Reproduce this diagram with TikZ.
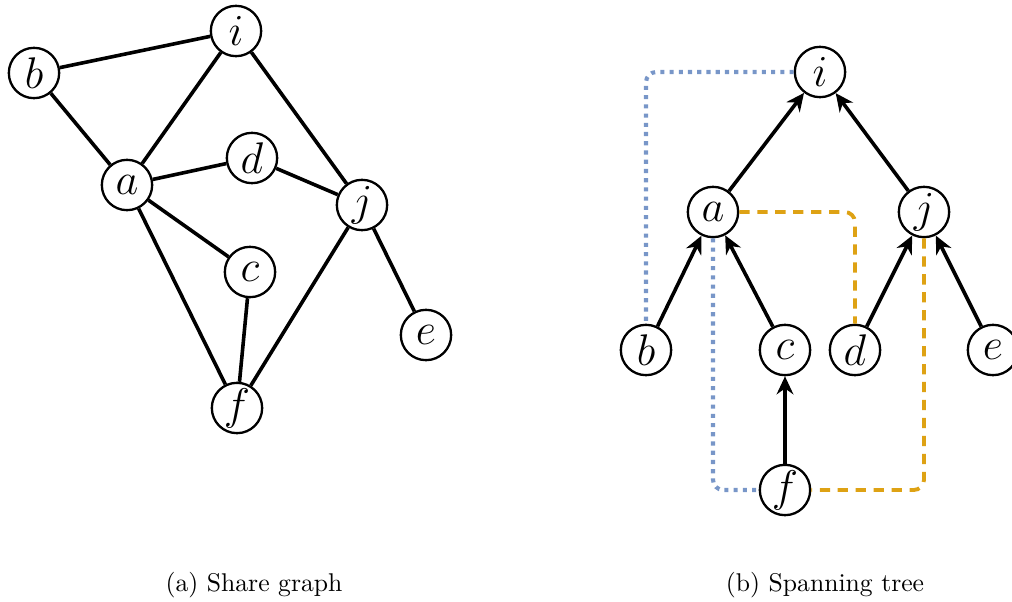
\documentclass[tikz,border=0pt]{standalone}
\usetikzlibrary{arrows.meta}
\definecolor{dotblue}{RGB}{120,150,200}
\definecolor{dashorange}{RGB}{222,162,20}
\tikzset{
  vtx/.style={circle,draw,line width=0.9pt,minimum size=0.69cm,inner sep=0pt,font=\LARGE},
  edge/.style={line width=1.4pt},
  treeedge/.style={line width=1.4pt,-{Stealth[length=7pt,width=6.5pt]}},
  bluepath/.style={dotblue,line width=1.6pt,dotted,rounded corners=4pt},
  orangepath/.style={dashorange,line width=1.5pt,dash pattern=on 4pt off 3pt,rounded corners=4pt}
}
\begin{document}
\begin{tikzpicture}[x=0.0137cm,y=-0.0137cm]
\useasboundingbox (0,0) rectangle (1012,602);
\node[vtx] (i) at (236,31) {$i$};
\node[vtx] (b) at (34,73) {$b$};
\node[vtx] (a) at (127,185) {$a$};
\node[vtx] (d) at (252,158) {$d$};
\node[vtx] (j) at (362,205) {$j$};
\node[vtx] (c) at (250,272) {$c$};
\node[vtx] (e) at (426,335) {$e$};
\node[vtx] (f) at (237,408) {$f$};
\draw[edge] (b) -- (i);
\draw[edge] (b) -- (a);
\draw[edge] (a) -- (i);
\draw[edge] (i) -- (j);
\draw[edge] (a) -- (d);
\draw[edge] (d) -- (j);
\draw[edge] (a) -- (c);
\draw[edge] (a) -- (f);
\draw[edge] (c) -- (f);
\draw[edge] (j) -- (f);
\draw[edge] (j) -- (e);
\node[vtx] (ri) at (820,72) {$i$};
\node[vtx] (ra) at (713,212) {$a$};
\node[vtx] (rj) at (924,212) {$j$};
\node[vtx] (rb) at (646,350) {$b$};
\node[vtx] (rc) at (785,350) {$c$};
\node[vtx] (rd) at (855,350) {$d$};
\node[vtx] (re) at (993,350) {$e$};
\node[vtx] (rf) at (785,490) {$f$};
\draw[treeedge] (ra) -- (ri);
\draw[treeedge] (rj) -- (ri);
\draw[treeedge] (rb) -- (ra);
\draw[treeedge] (rc) -- (ra);
\draw[treeedge] (rd) -- (rj);
\draw[treeedge] (re) -- (rj);
\draw[treeedge] (rf) -- (rc);
\draw[bluepath] (ri.west) -| (rb.north);
\draw[bluepath] (ra.south) |- (rf.west);
\draw[orangepath] (ra.east) -| (rd.north);
\draw[orangepath] (rj.south) |- (rf.east);
\node (capa) at (254,585) {(a) Share graph};
\node (capb) at (825,585) {(b) Spanning tree};
\end{tikzpicture}
\end{document}
